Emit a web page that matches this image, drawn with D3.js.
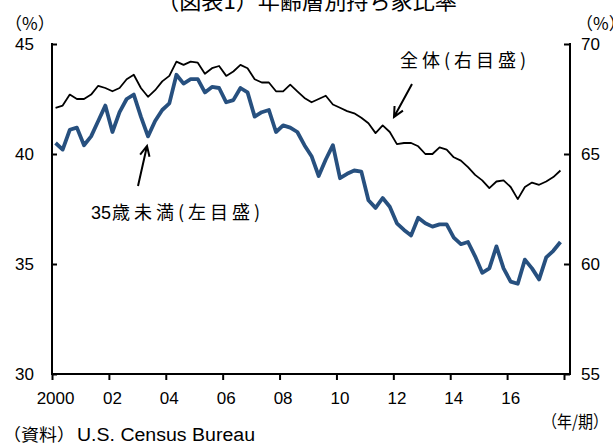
<!DOCTYPE html>
<html><head><meta charset="utf-8">
<script src="https://cdn.jsdelivr.net/npm/d3@7"></script>
<style>body{margin:0;background:#fff}svg{display:block}</style>
</head><body>
<svg id="c" width="613" height="446"></svg>
<script>
// Quarterly data 2000Q1 - 2017Q4
const startYear = 2000;
const under35 = [
 40.5,40.2,41.1,41.2, 40.4,40.8,41.5,42.2, 41.0,41.9,42.5,42.7, 41.7,40.8,41.5,42.0,
 42.3,43.6,43.2,43.4, 43.4,42.8,43.05,43.0, 42.35,42.45,43.0,42.8, 41.7,41.9,42.0,41.0,
 41.3,41.2,41.0,40.4, 39.9,39.0,39.75,40.4, 38.9,39.1,39.25,39.2, 37.9,37.55,38.0,37.6,
 36.85,36.55,36.3,37.1, 36.85,36.7,36.8,36.8, 36.2,35.9,36.0,35.35, 34.6,34.8,35.8,34.8,
 34.2,34.1,35.2,34.8, 34.3,35.3,35.6,36.0
];
const total = [
 67.1,67.2,67.7,67.5, 67.5,67.7,68.1,68.0, 67.85,68.0,68.4,68.6, 68.0,67.6,67.9,68.3,
 68.55,69.2,69.05,69.2, 69.15,68.65,68.9,69.0, 68.55,68.75,69.05,68.9, 68.4,68.25,68.25,67.85,
 67.85,68.15,67.85,67.55, 67.35,67.5,67.65,67.25, 67.1,66.95,66.85,66.65, 66.4,65.95,66.3,66.0,
 65.45,65.5,65.5,65.35, 65.0,65.0,65.3,65.2, 64.85,64.7,64.4,64.05, 63.8,63.45,63.75,63.8,
 63.5,62.95,63.5,63.7, 63.6,63.75,63.95,64.25
];
const xTickLabels = ["2000","02","04","06","08","10","12","14","16"];
const leftTicks = [30,35,40,45];
const rightTicks = [55,60,65,70];

const svg = d3.select("#c");
const numFont = "'Liberation Sans', Arial, sans-serif";
const jpFont = "'Noto Sans CJK JP', sans-serif";

const x = d3.scaleLinear().domain([0, 72]).range([52, 564]);
const yL = d3.scaleLinear().domain([30, 45]).range([374, 44]);
const yR = d3.scaleLinear().domain([55, 70]).range([374, 44]);
const rightX = 570;

// Title
svg.append("text").attr("x", 157).attr("y", 9)
  .attr("font-family", jpFont).attr("font-size", 22).attr("fill", "#000")
  .attr("textLength", 300).attr("lengthAdjust", "spacingAndGlyphs")
  .text("（図表1）年齢層別持ち家比率");

// unit labels
svg.append("text").attr("x", 5).attr("y", 30).attr("font-family", jpFont).attr("font-size", 17).text("（%）");
svg.append("text").attr("x", 576).attr("y", 30).attr("font-family", jpFont).attr("font-size", 17).text("（%）");

// Left axis
const gL = svg.append("g").attr("transform", "translate(52,0)")
  .call(d3.axisRight(yL).tickValues(leftTicks).tickSize(5).tickFormat(""));
gL.select(".domain").remove();
gL.selectAll("line").attr("stroke", "#000").attr("stroke-width", 2);
svg.append("line").attr("x1", 52).attr("x2", 52).attr("y1", yL(45)-1).attr("y2", yL(30)+1)
  .attr("stroke", "#000").attr("stroke-width", 2);
svg.append("g").selectAll("text").data(leftTicks).join("text")
  .attr("x", 34).attr("y", d => yL(d) + 6).attr("text-anchor", "end")
  .attr("font-family", numFont).attr("font-size", 17).text(d => d);

// Right axis
const gR = svg.append("g").attr("transform", `translate(${rightX},0)`)
  .call(d3.axisLeft(yR).tickValues(rightTicks).tickSize(6).tickFormat(""));
gR.select(".domain").remove();
gR.selectAll("line").attr("stroke", "#000").attr("stroke-width", 2);
svg.append("line").attr("x1", rightX).attr("x2", rightX).attr("y1", yR(70)-1).attr("y2", yR(55)+1)
  .attr("stroke", "#000").attr("stroke-width", 2);
svg.append("g").selectAll("text").data(rightTicks).join("text")
  .attr("x", 581).attr("y", d => yR(d) + 6).attr("text-anchor", "start")
  .attr("font-family", numFont).attr("font-size", 17).text(d => d);

// Bottom axis
const gB = svg.append("g").attr("transform", "translate(0,374)")
  .call(d3.axisBottom(x).tickValues(d3.range(0, 73, 8)).tickSize(6).tickFormat(""));
gB.select(".domain").remove();
gB.selectAll("line").attr("stroke", "#000").attr("stroke-width", 2);
svg.append("line").attr("x1", 51).attr("x2", rightX).attr("y1", 374).attr("y2", 374)
  .attr("stroke", "#000").attr("stroke-width", 2);
svg.append("g").selectAll("text").data(xTickLabels).join("text")
  .attr("x", (d, i) => x(i * 8 + 0.5)).attr("y", 404).attr("text-anchor", "middle")
  .attr("font-family", numFont).attr("font-size", 17).text(d => d);

// Lines
const lineL = d3.line().x((d, i) => x(i + 0.5)).y(d => yL(d));
const lineR = d3.line().x((d, i) => x(i + 0.5)).y(d => yR(d));
svg.append("path").datum(total).attr("d", lineR).attr("fill", "none")
  .attr("stroke", "#000").attr("stroke-width", 1.8).attr("stroke-linejoin", "round");
svg.append("path").datum(under35).attr("d", lineL).attr("fill", "none")
  .attr("stroke", "#27507f").attr("stroke-width", 3.8).attr("stroke-linejoin", "round");

// Annotations
svg.append("text").attr("x", 400).attr("y", 67).attr("font-family", jpFont).attr("font-size", 18)
  .attr("textLength", 126).attr("lengthAdjust", "spacing").text("全体(右目盛)");
svg.append("text").attr("x", 91).attr("y", 219).attr("font-family", numFont).attr("font-size", 18).text("35");
svg.append("text").attr("x", 112).attr("y", 219).attr("font-family", jpFont).attr("font-size", 18)
  .attr("textLength", 148).attr("lengthAdjust", "spacing").text("歳未満(左目盛)");

function arrow(x1, y1, x2, y2) {
  const a = Math.atan2(y2 - y1, x2 - x1), L = 11, w = 0.45;
  svg.append("path")
    .attr("d", `M${x1},${y1}L${x2},${y2}M${x2 - L*Math.cos(a - w)},${y2 - L*Math.sin(a - w)}L${x2},${y2}L${x2 - L*Math.cos(a + w)},${y2 - L*Math.sin(a + w)}`)
    .attr("fill", "none").attr("stroke", "#000").attr("stroke-width", 2);
}
arrow(412, 84, 394, 117);
arrow(138, 186, 147, 146);

// Footer
svg.append("text").attr("x", 542).attr("y", 428).attr("font-family", jpFont).attr("font-size", 17)
  .attr("textLength", 66).attr("lengthAdjust", "spacingAndGlyphs").text("（年/期）");
svg.append("text").attr("x", 3).attr("y", 441).attr("font-family", jpFont).attr("font-size", 17)
  .attr("textLength", 72).attr("lengthAdjust", "spacingAndGlyphs").text("（資料）");
svg.append("text").attr("x", 77).attr("y", 441).attr("font-family", numFont).attr("font-size", 18)
  .attr("textLength", 178).attr("lengthAdjust", "spacingAndGlyphs").text("U.S. Census Bureau");
</script>
</body></html>
